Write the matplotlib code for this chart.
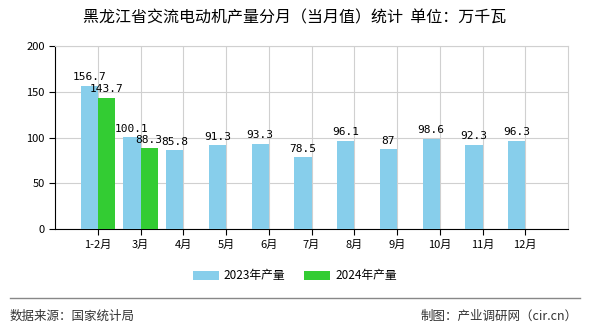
import numpy as np
from matplotlib import pyplot as plt

plt.rcParams['font.family'] = ['Noto Sans CJK SC', 'DejaVu Sans']

months = ['1-2月', '3月', '4月', '5月', '6月', '7月', '8月', '9月', '10月', '11月', '12月']
vals_2023 = [156.7, 100.1, 85.8, 91.3, 93.3, 78.5, 96.1, 87, 98.6, 92.3, 96.3]
vals_2024 = [143.7, 88.3]
labels_2023 = ['156.7', '100.1', '85.8', '91.3', '93.3', '78.5', '96.1', '87', '98.6', '92.3', '96.3']
labels_2024 = ['143.7', '88.3']

c23 = '#87ceeb'
c24 = '#33cc33'
w = 0.4

fig = plt.figure(figsize=(5.9, 3.3), dpi=100)
ax = fig.add_axes([55 / 590, 1 - 229 / 330, 513 / 590, 183 / 330])

x = np.arange(len(months))
x24 = np.arange(len(vals_2024))
b1 = ax.bar(x - w / 2, vals_2023, w, color=c23, label='2023年产量', zorder=3)
b2 = ax.bar(x24 + w / 2, vals_2024, w, color=c24, label='2024年产量', zorder=3)

for xi, v, t in zip(x, vals_2023, labels_2023):
	ax.text(xi - w / 2, v + 4, t, ha='center', va='bottom', fontsize=8,
		family=['DejaVu Sans Mono'], zorder=4)
for xi, v, t in zip(x24, vals_2024, labels_2024):
	ax.text(xi + w / 2, v + 4, t, ha='center', va='bottom', fontsize=8,
		family=['DejaVu Sans Mono'], zorder=4)

ax.set_xlim(-1, len(months))
ax.set_ylim(0, 200)
ax.set_yticks([0, 50, 100, 150, 200])
ax.set_xticks(x)
ax.set_xticklabels(months)
ax.tick_params(labelsize=8, length=4, colors='black')
ax.grid(True, color='#d0d0d0', linewidth=0.8, zorder=0)
for s in ['top', 'right']:
	ax.spines[s].set_color('#d0d0d0')
ax.spines['left'].set_color('black')
ax.spines['bottom'].set_color('black')

fig.text(0.5, 1 - 18 / 330, '黑龙江省交流电动机产量分月（当月值）统计  单位：万千瓦',
	ha='center', va='center', fontsize=11.5)

fig.legend(handles=[b1, b2], loc='center', bbox_to_anchor=(0.5, 1 - 276 / 330),
	ncol=2, frameon=False, fontsize=8.5, handlelength=2.2, handleheight=0.8,
	columnspacing=1.6, handletextpad=0.4)

fig.add_artist(plt.Line2D([10 / 590, 580 / 590], [1 - 298 / 330, 1 - 298 / 330],
	color='#888888', linewidth=1))
fig.text(10 / 590, 1 - 316 / 330, '数据来源：国家统计局', ha='left', va='center',
	fontsize=9, color='#333333')
fig.text(578 / 590, 1 - 316 / 330, '制图：产业调研网（cir.cn）', ha='right', va='center',
	fontsize=9, color='#333333')

fig.savefig('out.png', dpi=100)
